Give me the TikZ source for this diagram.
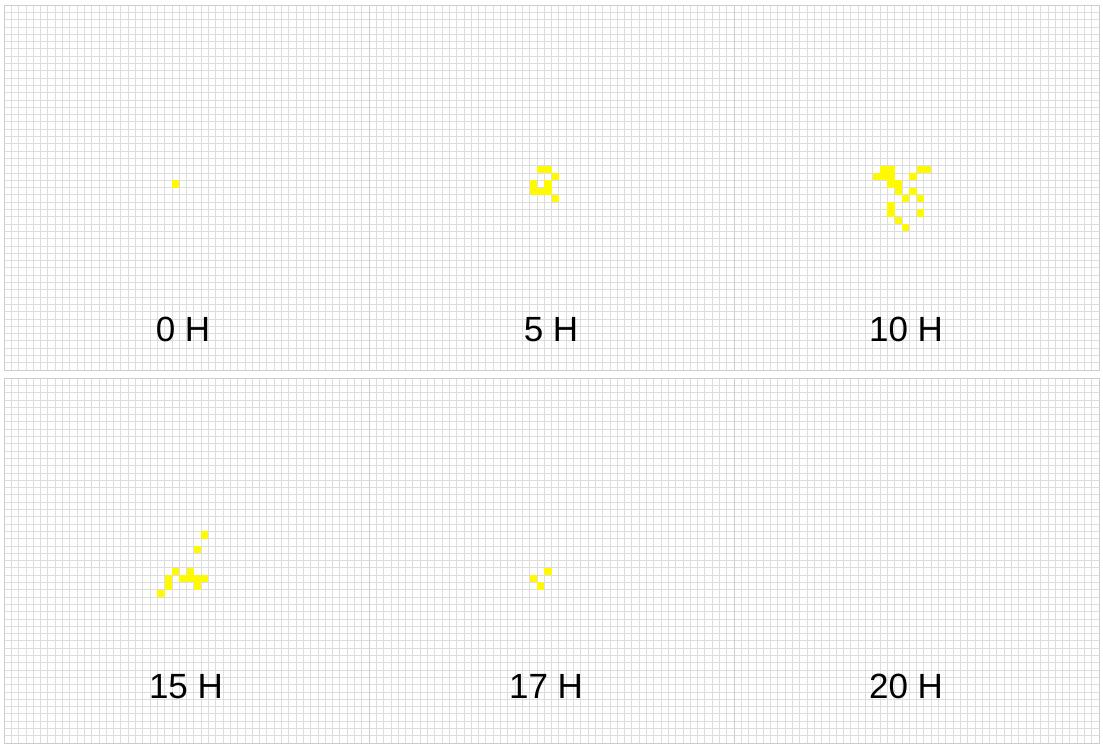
\documentclass[tikz,border=0pt]{standalone}
\usepackage{fontspec}
\setmainfont{Liberation Sans}
\definecolor{gridc}{RGB}{221,221,221}
\definecolor{borderc}{RGB}{205,205,205}
\definecolor{cellyellow}{RGB}{255,250,0}
\newcommand{\gridpanel}[2]{%
  \foreach \k in {0,...,50} {
    \draw[gridline] ({#1+7.3*\k},#2) -- ({#1+7.3*\k},{#2+365});
    \draw[gridline] (#1,{#2+7.3*\k}) -- ({#1+365},{#2+7.3*\k});
  }
  \draw[panelborder] (#1,#2) rectangle ({#1+365},{#2+365});
}
\newcommand{\livecells}[3]{%
  \foreach \c/\r in {#3} {
    \fill[cellfill] ({#1+7.3*\c},{#2+7.3*\r}) rectangle ++(7.3,7.3);
  }
}
\begin{document}
\begin{tikzpicture}[x=1pt,y=-1pt,
  gridline/.style={draw=gridc,line width=0.8pt},
  panelborder/.style={draw=borderc,line width=1pt},
  cellfill/.style={fill=cellyellow},
  lbl/.style={font=\fontsize{35}{40}\selectfont,text=black,inner sep=0pt,anchor=base}]
\useasboundingbox (0,0) rectangle (1103,748);
\fill[white] (0,0) rectangle (1103,748);
% grids
\gridpanel{4}{5}
\gridpanel{369}{5}
\gridpanel{734}{5}
\gridpanel{4}{378}
\gridpanel{369}{378}
\gridpanel{734}{378}
% 0 H
\livecells{4}{5}{23/24}
% 5 H
\livecells{369}{5}{23/22,24/22,25/23,22/24,24/24,22/25,23/25,24/25,25/26}
% 10 H
\livecells{734}{5}{20/22,21/22,25/22,26/22,19/23,20/23,21/23,24/23,21/24,22/24,22/25,24/25,23/26,25/26,21/27,21/28,25/28,22/29,23/30}
% 15 H
\livecells{4}{378}{27/21,26/23,23/26,25/26,22/27,24/27,25/27,26/27,27/27,22/28,26/28,21/29}
% 17 H
\livecells{369}{378}{24/26,22/27,23/28}
% labels
\node[lbl] (l0) at (183,341) {0 H};
\node[lbl] (l5) at (551,341) {5 H};
\node[lbl] (l10) at (906,341) {10 H};
\node[lbl] (l15) at (186,698) {15 H};
\node[lbl] (l17) at (546,698) {17 H};
\node[lbl] (l20) at (906,698) {20 H};
\end{tikzpicture}
\end{document}
